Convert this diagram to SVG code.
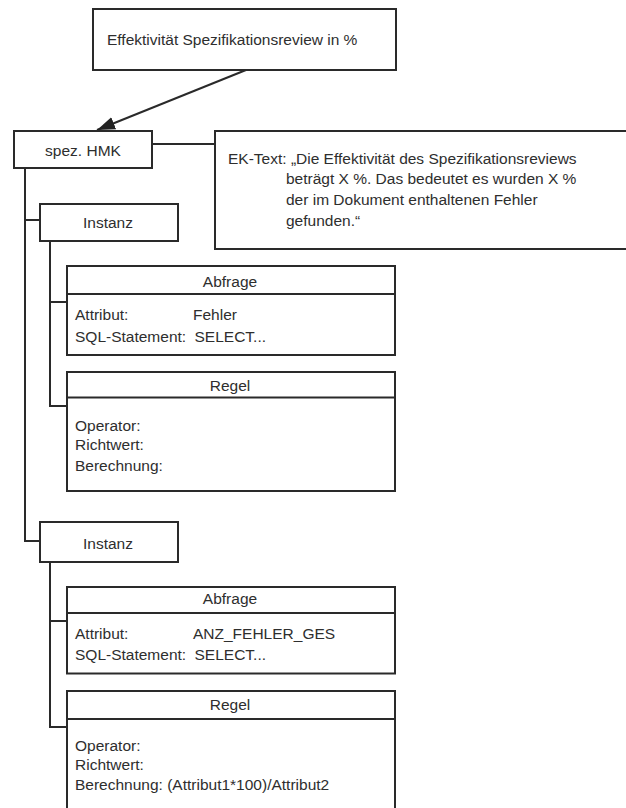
<svg xmlns="http://www.w3.org/2000/svg" width="626" height="808" viewBox="0 0 626 808">
  <defs>
    <marker id="arrowhead" markerUnits="userSpaceOnUse" markerWidth="20" markerHeight="14" refX="18" refY="6.5" orient="auto">
      <path d="M0,0 L18,6.5 L0,13 z" fill="#222"/>
    </marker>
    <style>
      .box { fill: #fff; stroke: #2a2a2a; stroke-width: 2; }
      .line { fill: none; stroke: #2a2a2a; stroke-width: 2; }
      .t { font-family: "Liberation Sans", Arial, sans-serif; font-size: 15.5px; fill: #2e2e2e; }
      .c { text-anchor: middle; }
    </style>
  </defs>
  <rect width="626" height="808" fill="#fff"/>

  <!-- connectors -->
  <g id="connectors">
    <line class="line" x1="246" y1="70" x2="97" y2="130" marker-end="url(#arrowhead)"/>
    <line class="line" x1="152" y1="144" x2="215" y2="144"/>
    <polyline class="line" points="25,168 25,541 40,541"/>
    <line class="line" x1="25" y1="220" x2="40" y2="220"/>
    <polyline class="line" points="50,241 50,406 67,406"/>
    <line class="line" x1="50" y1="302" x2="67" y2="302"/>
    <polyline class="line" points="50,562 50,727 67,727"/>
    <line class="line" x1="50" y1="621" x2="67" y2="621"/>
  </g>

  <!-- metric title -->
  <g id="kennzahl">
    <rect class="box" x="93" y="9" width="303" height="61"/>
    <text class="t" x="107" y="45">Effektivität Spezifikationsreview in %</text>
  </g>

  <g id="hmk">
    <rect class="box" x="14" y="131" width="138" height="37"/>
    <text class="t c" x="83" y="156">spez. HMK</text>
  </g>

  <g id="ek-text">
    <rect class="box" x="215" y="131" width="425" height="118"/>
    <text class="t" x="228" y="163.5">EK-Text: „Die Effektivität des Spezifikationsreviews</text>
    <text class="t" x="286" y="184.2">beträgt X %. Das bedeutet es wurden X %</text>
    <text class="t" x="286" y="204.9">der im Dokument enthaltenen Fehler</text>
    <text class="t" x="286" y="225.6">gefunden.“</text>
  </g>

  <!-- first instance -->
  <g id="instanz1">
    <rect class="box" x="40" y="204" width="138" height="37"/>
    <text class="t c" x="108" y="228">Instanz</text>
  </g>

  <g id="abfrage1">
    <rect class="box" x="67" y="266" width="328" height="89"/>
    <line class="line" x1="67" y1="294" x2="395" y2="294"/>
    <text class="t c" x="230" y="287">Abfrage</text>
    <text class="t" x="75" y="320">Attribut:</text>
    <text class="t" x="193" y="320">Fehler</text>
    <text class="t" x="75" y="341.5">SQL-Statement:</text>
    <text class="t" x="194.5" y="341.5">SELECT...</text>
  </g>

  <g id="regel1">
    <rect class="box" x="67" y="372" width="328" height="119"/>
    <line class="line" x1="67" y1="397.5" x2="395" y2="397.5"/>
    <text class="t c" x="230" y="390.5">Regel</text>
    <text class="t" x="75" y="431">Operator:</text>
    <text class="t" x="75" y="450">Richtwert:</text>
    <text class="t" x="75" y="471">Berechnung:</text>
  </g>

  <!-- second instance -->
  <g id="instanz2">
    <rect class="box" x="40" y="522" width="138" height="40"/>
    <text class="t c" x="108" y="549">Instanz</text>
  </g>

  <g id="abfrage2">
    <rect class="box" x="67" y="587" width="328" height="86.5"/>
    <line class="line" x1="67" y1="613" x2="395" y2="613"/>
    <text class="t c" x="230" y="604">Abfrage</text>
    <text class="t" x="75" y="638.5">Attribut:</text>
    <text class="t" x="193" y="638.5">ANZ_FEHLER_GES</text>
    <text class="t" x="75" y="660">SQL-Statement:</text>
    <text class="t" x="194.5" y="660">SELECT...</text>
  </g>

  <g id="regel2">
    <rect class="box" x="67" y="691" width="328" height="130"/>
    <line class="line" x1="67" y1="719" x2="395" y2="719"/>
    <text class="t c" x="230" y="710">Regel</text>
    <text class="t" x="75" y="750.5">Operator:</text>
    <text class="t" x="75" y="769.5">Richtwert:</text>
    <text class="t" x="75" y="789.5">Berechnung: (Attribut1*100)/Attribut2</text>
  </g>
</svg>
